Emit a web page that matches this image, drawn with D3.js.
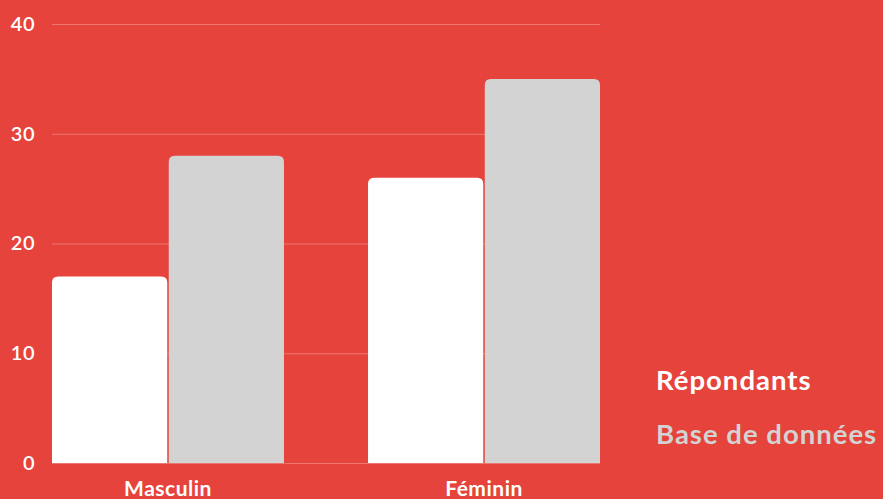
<!DOCTYPE html>
<html>
<head>
<meta charset="utf-8">
<script src="https://cdn.jsdelivr.net/npm/d3@7"></script>
<style>
  html, body { margin: 0; padding: 0; background: #E5433B; }
  svg { display: block; font-family: Lato, "Open Sans", sans-serif; }
</style>
</head>
<body>
<svg id="chart" width="883" height="499"></svg>
<script>
// Genre des répondants comparé à la base de données
const categories = ["Masculin", "Féminin"];
const seriesNames = ["Répondants", "Base de données"];
const repondants = [17, 26];
const baseDonnees = [28, 35];
const yTicks = [0, 10, 20, 30, 40];

const colors = { "Répondants": "#FFFFFF", "Base de données": "#D3D3D3" };

const svg = d3.select("#chart");
const W = 883, H = 499;
const margin = { top: 24, right: 283, bottom: 36, left: 52 };
const innerW = W - margin.left - margin.right;
const innerH = H - margin.top - margin.bottom;

svg.append("rect").attr("width", W).attr("height", H).attr("fill", "#E5433B");

const g = svg.append("g").attr("transform", `translate(${margin.left},${margin.top})`);

const x0 = d3.scaleBand().domain(categories).range([0, innerW])
  .paddingInner(0.266).paddingOuter(0);
const x1 = d3.scaleBand().domain(seriesNames).range([0, x0.bandwidth()])
  .paddingInner(0.013);
const y = d3.scaleLinear().domain([0, 40]).range([innerH, 0]);

// gridlines
g.append("g")
  .selectAll("line")
  .data(yTicks)
  .join("line")
  .attr("x1", 0).attr("x2", innerW)
  .attr("y1", d => y(d) + 0.5).attr("y2", d => y(d) + 0.5)
  .attr("stroke", "#FFFFFF").attr("stroke-opacity", 0.28).attr("stroke-width", 1);

// y axis labels
const yAxis = d3.axisLeft(y).tickValues(yTicks).tickSize(0).tickPadding(17);
const ya = g.append("g").call(yAxis);
ya.select(".domain").remove();
ya.selectAll("text")
  .attr("fill", "#FFFFFF").attr("font-size", 20).attr("font-weight", 600)
  .attr("letter-spacing", 0.5)
  .attr("font-family", "Lato, sans-serif");

// rounded-top bar path
function topRounded(x, yTop, w, h, r) {
  r = Math.min(r, w / 2, h);
  return `M${x},${yTop + h}V${yTop + r}Q${x},${yTop} ${x + r},${yTop}` +
         `H${x + w - r}Q${x + w},${yTop} ${x + w},${yTop + r}V${yTop + h}Z`;
}

const rows = categories.map((c, i) => ({
  cat: c,
  vals: [
    { key: seriesNames[0], value: repondants[i] },
    { key: seriesNames[1], value: baseDonnees[i] }
  ]
}));

const groups = g.append("g").selectAll("g")
  .data(rows).join("g")
  .attr("transform", d => `translate(${x0(d.cat)},0)`);

groups.selectAll("path")
  .data(d => d.vals).join("path")
  .attr("d", d => topRounded(x1(d.key), y(d.value), x1.bandwidth(), y(0) - y(d.value), 6))
  .attr("fill", d => colors[d.key]);

// x axis labels
const xAxis = d3.axisBottom(x0).tickSize(0).tickPadding(18);
const xa = g.append("g").attr("transform", `translate(0,${innerH})`).call(xAxis);
xa.select(".domain").remove();
xa.selectAll("text")
  .attr("fill", "#FFFFFF").attr("font-size", 21).attr("font-weight", 700)
  .attr("letter-spacing", 0.5)
  .attr("font-family", "Lato, sans-serif");

// legend
const legend = svg.append("g").attr("transform", "translate(656,0)");
legend.selectAll("text")
  .data(seriesNames).join("text")
  .attr("x", 0)
  .attr("y", (d, i) => 390 + i * 54)
  .attr("fill", d => d === seriesNames[0] ? "#FFFFFF" : "#D3D3D3")
  .attr("font-size", 27.5).attr("font-weight", 700)
  .attr("letter-spacing", 1.0)
  .attr("font-family", "Lato, sans-serif")
  .text(d => d);
</script>
</body>
</html>
